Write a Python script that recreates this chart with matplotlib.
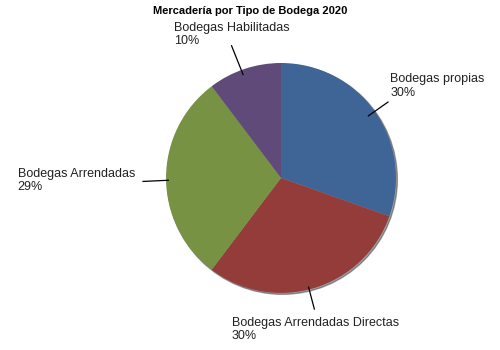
import numpy as np
import matplotlib
matplotlib.use('Agg')
import matplotlib.pyplot as plt

plt.rcParams['font.family'] = ['Liberation Sans', 'DejaVu Sans']

labels = ['Bodegas propias', 'Bodegas Arrendadas Directas', 'Bodegas Arrendadas', 'Bodegas Habilitadas']
values = [30.4, 29.9, 29.4, 10.3]   # percent
colors = ['#3F6496', '#933C3A', '#789244', '#604A7A']

# label text anchor (data coords, radius=1) and leader line (start, end)
text_pos = [(0.95, 0.80), (-0.43, -1.32), (-2.29, -0.02), (-0.93, 1.25)]
leaders = [((0.76, 0.54), (0.93, 0.66)),
           ((0.24, -0.95), (0.29, -1.14)),
           ((-0.98, -0.02), (-1.20, -0.03)),
           ((-0.33, 0.90), (-0.43, 1.15))]

fig = plt.figure(figsize=(5, 3.5), dpi=100)
ax = fig.add_axes([0.332, 0.163, 0.46, 0.657])

# faint rim shadow
ax.add_patch(plt.Circle((0.012, -0.012), 1.0, color='#303030', alpha=0.45,
                        zorder=0, clip_on=False))
wedges, _ = ax.pie(values, colors=colors, startangle=90, counterclock=False,
                   radius=1.0, wedgeprops=dict(linewidth=0))
for w in wedges:
    w.set_clip_on(False)
ax.set_xlim(-1, 1)
ax.set_ylim(-1, 1)
ax.set_aspect('equal')

for lab, v, (tx, ty), (p0, p1) in zip(labels, values, text_pos, leaders):
    ax.plot([p0[0], p1[0]], [p0[1], p1[1]], color='black', lw=0.9, clip_on=False)
    ax.text(tx, ty, f'{lab}\n{v:.0f}%', ha='left', va='center', fontsize=9,
            color='#222222', linespacing=1.15)

fig.text(0.5, 0.968, 'Mercadería por Tipo de Bodega 2020', ha='center', va='center',
         fontsize=8, fontweight='bold')

fig.savefig('out.png', dpi=100)
